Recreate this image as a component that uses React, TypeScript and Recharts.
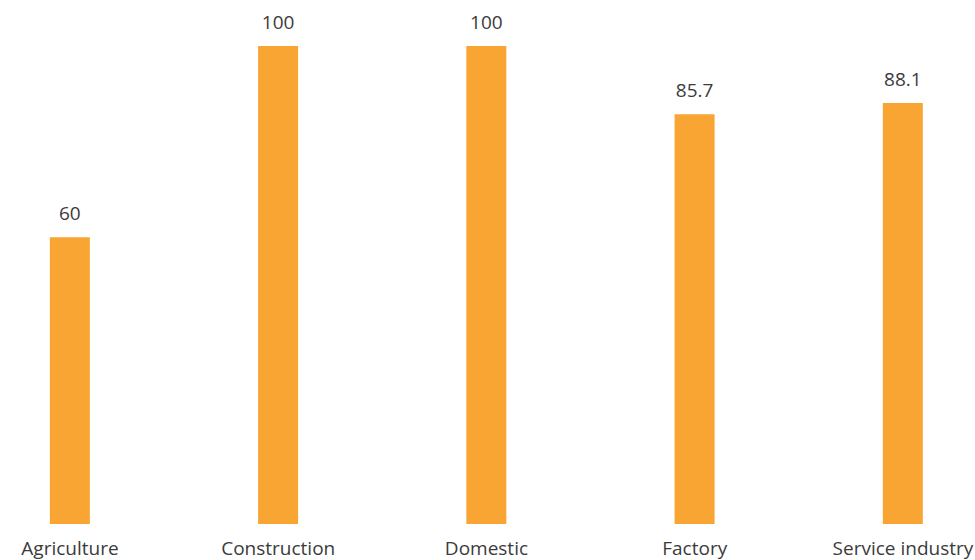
import React from "react";
import { BarChart, Bar, XAxis, YAxis, LabelList } from "recharts";

const categories = [
  "Agriculture",
  "Construction",
  "Domestic",
  "Factory",
  "Service industry",
];
const values = [60, 100, 100, 85.7, 88.1];

const data = categories.map((name, i) => ({ idx: i, name, value: values[i] }));

const TEXT = "#3b3b3b";
const FONT = "'Open Sans', sans-serif";

export default function App() {
  return (
    <div style={{ position: "absolute", left: 0, top: 0 }}>
      <BarChart
        width={975}
        height={560}
        data={data}
        margin={{ top: 46, right: 0, left: 0, bottom: 0 }}
      >
        <XAxis
          dataKey="idx"
          type="number"
          domain={[-0.336, 4.346]}
          ticks={[0, 1, 2, 3, 4]}
          tickFormatter={(v) => categories[v]}
          axisLine={false}
          tickLine={false}
          height={36}
          tickMargin={12}
          interval={0}
          allowDataOverflow
          tick={{ fill: TEXT, fontSize: 19, fontFamily: FONT }}
        />
        <YAxis hide domain={[0, 100]} />
        <Bar
          dataKey="value"
          fill="#F9A533"
          barSize={40}
          isAnimationActive={false}
        >
          <LabelList
            dataKey="value"
            position="top"
            offset={17}
            fill={TEXT}
            fontSize={19}
            fontFamily={FONT}
          />
        </Bar>
      </BarChart>
    </div>
  );
}
